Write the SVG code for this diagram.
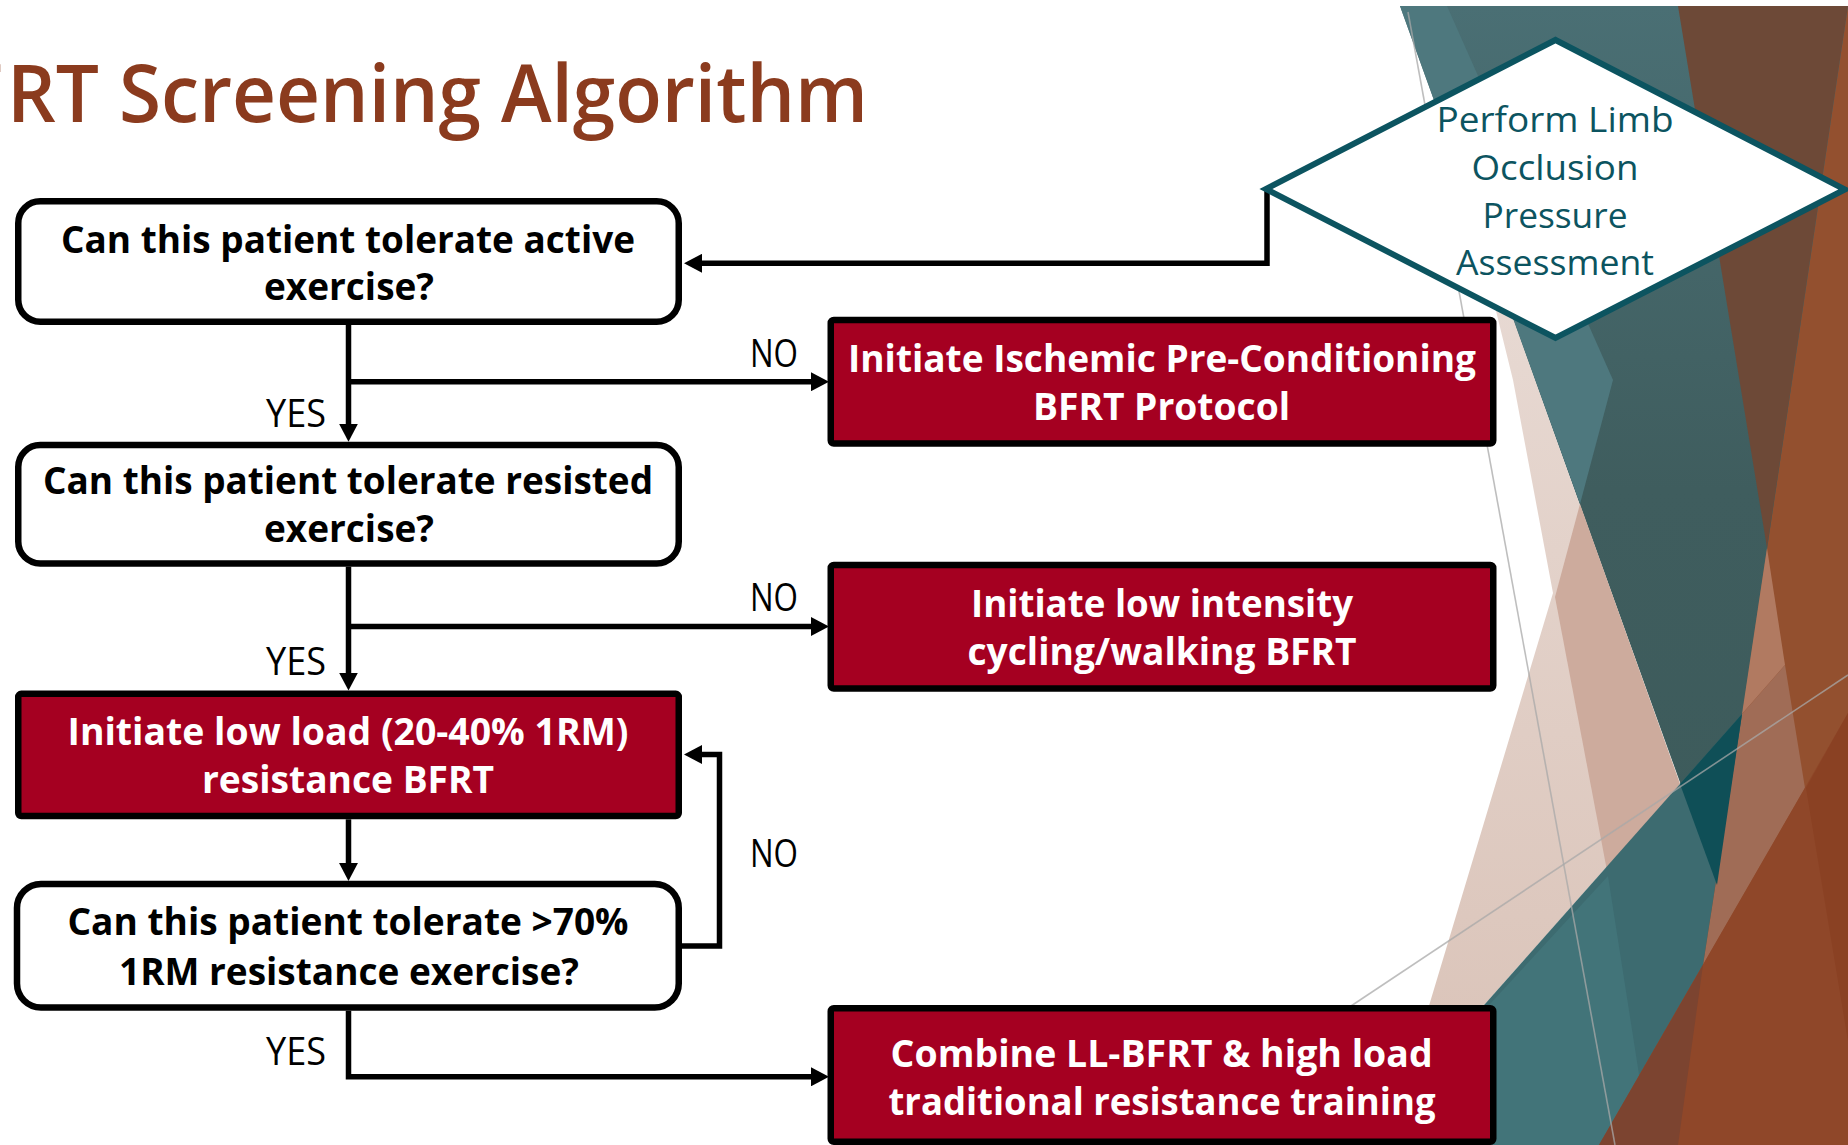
<svg xmlns="http://www.w3.org/2000/svg" width="1848" height="1145" viewBox="0 0 1848 1145">
  <defs>
    <linearGradient id="tealFade" x1="0" y1="0" x2="0" y2="1">
      <stop offset="0" stop-color="#4A6F74"/>
      <stop offset="0.55" stop-color="#3F5D5E"/>
      <stop offset="1" stop-color="#3D5B5B"/>
    </linearGradient>
    <linearGradient id="beigeFade" x1="0" y1="0" x2="0" y2="1">
      <stop offset="0" stop-color="#E9DCD6"/>
      <stop offset="1" stop-color="#DAC3B8"/>
    </linearGradient>
    <marker id="arrow" viewBox="0 0 18 19" markerWidth="18" markerHeight="19" refX="10" refY="9.5" orient="auto" markerUnits="userSpaceOnUse">
      <path d="M0,0 L18,9.5 L0,19 z" fill="#000"/>
    </marker>
    <style>
      .q { font-family: "Open Sans", "Liberation Sans", sans-serif; font-weight: 700; font-size: 38px; fill: #000; text-anchor: middle; }
      .w { font-family: "Open Sans", "Liberation Sans", sans-serif; font-weight: 700; font-size: 38px; fill: #fff; text-anchor: middle; }
      .lbl { font-family: "Open Sans", "Liberation Sans", sans-serif; font-weight: 400; font-size: 38px; fill: #000; }
      .dt { font-family: "Open Sans", "Liberation Sans", sans-serif; font-weight: 400; font-size: 35px; fill: #0C5460; text-anchor: middle; }
      .title { font-family: "Open Sans", "Liberation Sans", sans-serif; font-weight: 600; font-size: 80px; fill: #8B3B1E; }
      .ask { fill: #fff; stroke: #000; stroke-width: 6.5; }
      .act { fill: #A50021; stroke: #000; stroke-width: 6.5; }
      .wire { fill: none; stroke: #000; stroke-width: 5.5; stroke-linejoin: miter; marker-end: url(#arrow); }
      .hair { fill: none; stroke: #A8A8A8; stroke-width: 1.6; opacity: 0.75; }
    </style>
  </defs>

  <rect x="0" y="0" width="1848" height="1145" fill="#fff"/>

  <!-- faceted backdrop on the right edge -->
  <g id="backdrop">
    <polygon points="1690,6 1848,6 1848,1145 1590,1145 1700,900" fill="#93502F"/>
    <polygon points="1400,6 1848,6 1717,885" fill="url(#tealFade)"/>
    <polygon points="1400,6 1447,6 1613,380 1580,504" fill="#4E787E"/>
    <polygon points="1678,6 1848,6 1767,548" fill="#6D4937"/>
    <polygon points="1767,548 1785,665 1742,714" fill="#B17A61"/>
    <polygon points="1742,714 1785,665 1805,788 1703,965" fill="#A06C56"/>
    <polygon points="1465,185 1513,380 1553,593 1401,1099 1680,784" fill="url(#beigeFade)"/>
    <polygon points="1580,504 1555,597 1608,876 1680,784" fill="#CDAB9D"/>
    <polygon points="1360,1145 1742,714 1703,965 1599,1145" fill="#3D6B70"/>
    <polygon points="1360,1145 1608,876 1650,1145" fill="#427479"/>
    <polygon points="1680,784 1742,714 1717,885" fill="#0F4F57"/>
    <polygon points="1599,1145 1848,713 1848,1145" fill="#8F4729"/>
    <polygon points="1599,1145 1703,965 1678,1145" fill="#7C4430"/>
    <polygon points="1806,788 1848,713 1848,1041" fill="#8A4123"/>
    <line class="hair" x1="1408" y1="12" x2="1615" y2="1145"/>
    <line class="hair" x1="1345" y1="1010" x2="1848" y2="675"/>
  </g>

  <!-- heading runs off the left edge of the slide -->
  <text class="title" x="3" y="122" text-anchor="end">BF</text>
  <text class="title" x="7" y="122" textLength="861" lengthAdjust="spacingAndGlyphs">RT Screening Algorithm</text>

  <g id="connectors">
    <path class="wire" d="M1267,189 V263.3 H692"/>
    <path class="wire" d="M348.5,325 V433.7"/>
    <path class="wire" d="M348.5,381.7 H821"/>
    <path class="wire" d="M348.5,566.7 V682.6"/>
    <path class="wire" d="M348.5,626.5 H821"/>
    <path class="wire" d="M348.5,819.3 V872.9"/>
    <path class="wire" d="M682,946 H719.5 V754.5 H692"/>
    <path class="wire" d="M348.5,1010.7 V1076.8 H821"/>
    <text class="lbl" x="750" y="367" textLength="48" lengthAdjust="spacingAndGlyphs">NO</text>
    <text class="lbl" x="266" y="427" textLength="60" lengthAdjust="spacingAndGlyphs">YES</text>
    <text class="lbl" x="750" y="610.5" textLength="48" lengthAdjust="spacingAndGlyphs">NO</text>
    <text class="lbl" x="266" y="674.5" textLength="60" lengthAdjust="spacingAndGlyphs">YES</text>
    <text class="lbl" x="750" y="866.5" textLength="48" lengthAdjust="spacingAndGlyphs">NO</text>
    <text class="lbl" x="266" y="1064.5" textLength="60" lengthAdjust="spacingAndGlyphs">YES</text>
  </g>

  <g id="occlusion-assessment">
    <polygon points="1555.5,40 1845,189.5 1555.5,338 1266,189" fill="#fff" stroke="#0C5460" stroke-width="6"/>
    <text class="dt" x="1555" y="131.7" textLength="237" lengthAdjust="spacingAndGlyphs">Perform Limb</text>
    <text class="dt" x="1555" y="180" textLength="167" lengthAdjust="spacingAndGlyphs">Occlusion</text>
    <text class="dt" x="1555" y="227.7" textLength="145" lengthAdjust="spacingAndGlyphs">Pressure</text>
    <text class="dt" x="1555" y="275" textLength="198" lengthAdjust="spacingAndGlyphs">Assessment</text>
  </g>

  <g id="active-exercise">
    <rect class="ask" x="18.25" y="201.25" width="660.5" height="120.5" rx="22"/>
    <text class="q" x="348" y="252.7" textLength="574" lengthAdjust="spacingAndGlyphs">Can this patient tolerate active</text>
    <text class="q" x="349" y="300" textLength="170" lengthAdjust="spacingAndGlyphs">exercise?</text>
  </g>

  <g id="resisted-exercise">
    <rect class="ask" x="18.25" y="445" width="660.5" height="118.5" rx="22"/>
    <text class="q" x="348" y="494" textLength="610" lengthAdjust="spacingAndGlyphs">Can this patient tolerate resisted</text>
    <text class="q" x="349" y="541.7" textLength="170" lengthAdjust="spacingAndGlyphs">exercise?</text>
  </g>

  <g id="low-load-bfrt">
    <rect class="act" x="18.25" y="693.8" width="660.5" height="122.3" rx="3"/>
    <text class="w" x="348" y="744.7" textLength="561" lengthAdjust="spacingAndGlyphs">Initiate low load (20-40% 1RM)</text>
    <text class="w" x="348" y="793.2" textLength="292" lengthAdjust="spacingAndGlyphs">resistance BFRT</text>
  </g>

  <g id="high-load-exercise">
    <rect class="ask" x="17" y="884" width="661.75" height="123.5" rx="24"/>
    <text class="q" x="348" y="935" textLength="561" lengthAdjust="spacingAndGlyphs">Can this patient tolerate &gt;70%</text>
    <text class="q" x="349" y="984.6" textLength="460" lengthAdjust="spacingAndGlyphs">1RM resistance exercise?</text>
  </g>

  <g id="ischemic-preconditioning">
    <rect class="act" x="830.75" y="320" width="662.5" height="123.5" rx="3"/>
    <text class="w" x="1162" y="371.7" textLength="628" lengthAdjust="spacingAndGlyphs">Initiate Ischemic Pre-Conditioning</text>
    <text class="w" x="1161.5" y="420" textLength="257" lengthAdjust="spacingAndGlyphs">BFRT Protocol</text>
  </g>

  <g id="cycling-walking-bfrt">
    <rect class="act" x="830.75" y="565" width="662.5" height="123.5" rx="3"/>
    <text class="w" x="1162" y="616.7" textLength="382" lengthAdjust="spacingAndGlyphs">Initiate low intensity</text>
    <text class="w" x="1162" y="665" textLength="389" lengthAdjust="spacingAndGlyphs">cycling/walking BFRT</text>
  </g>

  <g id="combined-training">
    <rect class="act" x="830.75" y="1008.25" width="662.5" height="133.5" rx="3"/>
    <text class="w" x="1161.6" y="1067" textLength="542" lengthAdjust="spacingAndGlyphs">Combine LL-BFRT &amp; high load</text>
    <text class="w" x="1162" y="1115" textLength="547" lengthAdjust="spacingAndGlyphs">traditional resistance training</text>
  </g>
</svg>
